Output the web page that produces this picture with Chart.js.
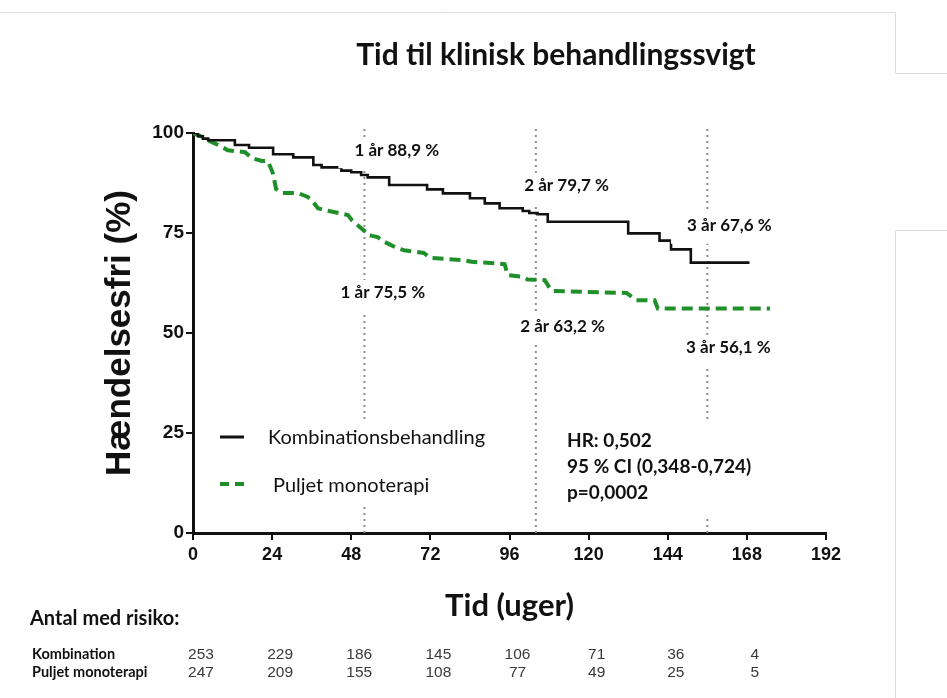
<!DOCTYPE html>
<html lang="da">
<head>
  <meta charset="utf-8">
  <title>Tid til klinisk behandlingssvigt</title>
  <style>
    html, body { margin: 0; padding: 0; background: #fff; }
    #wrap { position: relative; width: 947px; height: 698px; }
  </style>
</head>

<body>
  <div id="wrap">
    <canvas id="km" width="947" height="698"></canvas>
  </div>

  <script src="https://cdn.jsdelivr.net/npm/chart.js@4.4.0/dist/chart.umd.min.js"></script>
  <script>
    // Kaplan-Meier curves (weeks, % event free)
    var kombWeeks = [0, 1.5, 3, 4.6, 12.7, 17, 24.3, 30.4, 36.5, 39, 45, 48, 51, 53, 59.5, 71, 75.8, 84, 88.5, 93, 100, 102, 104.5, 107.6, 132, 141.5, 145, 151, 168.8];
    var kombSurv  = [100, 99.2, 98.6, 98.2, 97, 96.3, 94.7, 93.9, 92, 91.4, 90.6, 90.2, 89.5, 88.9, 87, 85.9, 84.9, 83.7, 82.4, 81.2, 80.5, 80, 79.7, 77.8, 74.9, 73.1, 70.9, 67.6, 67.6];

    var monoWeeks = [0, 3, 4.5, 7.6, 10.6, 15.8, 17.9, 20.9, 22.7, 24.2, 25.2, 27, 31.8, 34.8, 36, 37.9, 40, 47, 48.2, 52, 53, 56, 58, 62, 64, 70, 72, 82, 84.5, 92.5, 94.5, 95.5, 99.7, 101.5, 106.7, 108, 109, 131.5, 134.5, 140, 141, 175];
    var monoSurv  = [100, 99, 98.2, 97, 95.7, 95.2, 93.7, 93, 93, 90, 86, 85, 85, 84, 83.2, 81.2, 80.7, 79.5, 78.2, 75.5, 74.5, 74, 72.8, 71.2, 70.7, 70, 68.8, 68.2, 67.8, 67.4, 67.2, 64.5, 64.1, 63.4, 63.2, 61.5, 60.5, 60, 58.2, 58.2, 56.1, 56.1];

    // 1, 2 and 3 year marks
    var milestoneWeeks = [52, 104, 156];
    var milestoneYears = [1, 2, 3];
    var kombMilestones = ['88,9', '79,7', '67,6'];
    var monoMilestones = ['75,5', '63,2', '56,1'];

    // number at risk
    var riskWeeks = [0, 24, 48, 72, 96, 120, 144, 168];
    var riskKomb  = [253, 229, 186, 145, 106, 71, 36, 4];
    var riskMono  = [247, 209, 155, 108, 77, 49, 25, 5];

    var xTicks = [0, 24, 48, 72, 96, 120, 144, 168, 192];
    var yTicks = [0, 25, 50, 75, 100];

    function pts(xs, ys) {
      return xs.map(function(x, i) { return {x: x, y: ys[i]}; });
    }

    // where the percentage labels sit (week, value of the label centre)
    var kombLabelSpots = [[61.8, 95.7], [113.3, 86.8], [162.7, 76.8]];
    var monoLabelSpots = [[57.6, 60], [112.1, 51.5], [162.4, 46.3]];

    var calibri = 'Lato, "Noto Sans", sans-serif';
    var arial = '"Liberation Sans", Arial, sans-serif';

    function label(ctx, text, x, y, font, align) {
      ctx.font = font;
      ctx.textAlign = align || 'left';
      ctx.textBaseline = 'middle';
      ctx.fillText(text, x, y);
    }

    var overlays = {
      id: 'overlays',
      afterDatasetsDraw: function(chart) {
        var ctx = chart.ctx, xs = chart.scales.x, ys = chart.scales.y;
        ctx.save();
        var all = [];
        milestoneYears.forEach(function(yr, i) {
          all.push({t: yr + ' år ' + kombMilestones[i] + ' %', s: kombLabelSpots[i]});
          all.push({t: yr + ' år ' + monoMilestones[i] + ' %', s: monoLabelSpots[i]});
        });
        all.forEach(function(a) {
          var cx = xs.getPixelForValue(a.s[0]), cy = ys.getPixelForValue(a.s[1]);
          ctx.font = 'bold 17px ' + calibri;
          var w = ctx.measureText(a.t).width;
          ctx.fillStyle = '#fff';
          ctx.fillRect(cx - w / 2 - 16, cy - 13, w + 32, 31);
          ctx.fillStyle = '#111';
          label(ctx, a.t, cx, cy, 'bold 17px ' + calibri, 'center');
        });

        // legend
        ctx.fillStyle = '#fff';
        ctx.fillRect(205, 420, 300, 85);
        ctx.strokeStyle = '#111';
        ctx.lineWidth = 3;
        ctx.beginPath(); ctx.moveTo(220, 437); ctx.lineTo(244, 437); ctx.stroke();
        ctx.strokeStyle = '#1f8f2a';
        ctx.lineWidth = 4;
        ctx.setLineDash([9, 6]);
        ctx.beginPath(); ctx.moveTo(220, 484); ctx.lineTo(246, 484); ctx.stroke();
        ctx.setLineDash([]);
        ctx.fillStyle = '#111';
        label(ctx, 'Kombinationsbehandling', 268, 438, '20px ' + calibri);
        label(ctx, 'Puljet monoterapi', 273, 486, '20px ' + calibri);

        // hazard ratio box
        ctx.fillStyle = '#fff';
        ctx.fillRect(560, 420, 210, 95);
        ctx.fillStyle = '#111';
        label(ctx, 'HR: 0,502', 567, 441, 'bold 19px ' + calibri);
        label(ctx, '95 % CI (0,348-0,724)', 567, 467, 'bold 19px ' + calibri);
        label(ctx, 'p=0,0002', 567, 493, 'bold 19px ' + calibri);
        ctx.restore();
      },
      afterDraw: function(chart) {
        var ctx = chart.ctx, xs = chart.scales.x;
        ctx.save();
        ctx.fillStyle = '#111';
        label(ctx, 'Tid til klinisk behandlingssvigt', 556, 55, 'bold 30px ' + calibri, 'center');

        label(ctx, 'Antal med risiko:', 30, 619, 'bold 20px ' + calibri);
        label(ctx, 'Kombination', 32, 654, 'bold 14.5px ' + calibri);
        label(ctx, 'Puljet monoterapi', 32, 672, 'bold 14.5px ' + calibri);
        ctx.fillStyle = '#3a3a3a';
        riskWeeks.forEach(function(w, i) {
          var px = xs.getPixelForValue(w) + 8;
          label(ctx, String(riskKomb[i]), px, 655, '15.5px ' + arial, 'center');
          label(ctx, String(riskMono[i]), px, 673, '15.5px ' + arial, 'center');
        });

        // faint frame lines from the original slide
        ctx.strokeStyle = '#dedede';
        ctx.lineWidth = 1;
        ctx.beginPath();
        ctx.moveTo(0, 12.5); ctx.lineTo(895.5, 12.5); ctx.lineTo(895.5, 73.5); ctx.lineTo(947, 73.5);
        ctx.moveTo(947, 230.5); ctx.lineTo(895.5, 230.5); ctx.lineTo(895.5, 698);
        ctx.stroke();
        ctx.restore();
      }
    };

    var markerSets = milestoneWeeks.map(function(w) {
      return {
        data: [{x: w, y: 0}, {x: w, y: 102}],
        borderColor: '#8c8c8c',
        borderWidth: 2,
        borderDash: [2, 4],
        pointRadius: 0,
        clip: false
      };
    });

    var ctx = document.getElementById('km').getContext('2d');
    var chart = new Chart(ctx, {
      type: 'line',
      data: {
        datasets: [{
          label: 'Kombinationsbehandling',
          data: pts(kombWeeks, kombSurv),
          borderColor: '#111',
          borderWidth: 2.6,
          stepped: 'before',
          pointRadius: 0,
          fill: false
        }, {
          label: 'Puljet monoterapi',
          data: pts(monoWeeks, monoSurv),
          borderColor: '#1f8f2a',
          borderWidth: 4,
          borderDash: [11, 6],
          pointRadius: 0,
          fill: false
        }].concat(markerSets)
      },
      options: {
        responsive: false,
        animation: false,
        devicePixelRatio: 1,
        layout: { padding: { left: 0, top: 133, right: 121, bottom: 65 } },
        plugins: { legend: { display: false }, tooltip: { enabled: false } },
        scales: {
          x: {
            type: 'linear', min: 0, max: 192,
            afterBuildTicks: function(s) { s.ticks = xTicks.map(function(v) { return {value: v}; }); },
            afterFit: function(s) { s.height = 100; },
            ticks: { color: '#111', padding: 4, font: { family: arial, size: 18, weight: 'bold' } },
            grid: { display: true, drawOnChartArea: false, drawTicks: true, tickLength: 7, color: '#111', lineWidth: 2 },
            border: { display: true, color: '#111', width: 3 },
            title: { display: true, text: 'Tid (uger)', color: '#111', padding: { top: 0, bottom: 8 }, font: { family: calibri, size: 31, weight: 'bold' } }
          },
          y: {
            min: 0, max: 100,
            afterBuildTicks: function(s) { s.ticks = yTicks.map(function(v) { return {value: v}; }); },
            afterFit: function(s) { s.width = 193; },
            ticks: { color: '#111', padding: 2, font: { family: arial, size: 19, weight: 'bold' } },
            grid: { display: true, drawOnChartArea: false, drawTicks: true, tickLength: 7, color: '#111', lineWidth: 2 },
            border: { display: true, color: '#111', width: 3 },
            title: { display: true, text: 'Hændelsesfri (%)', color: '#111', padding: { top: 99, bottom: 0 }, font: { family: arial, size: 35, weight: 'bold' } }
          }
        }
      },
      plugins: [overlays]
    });
  </script>
</body>
</html>
